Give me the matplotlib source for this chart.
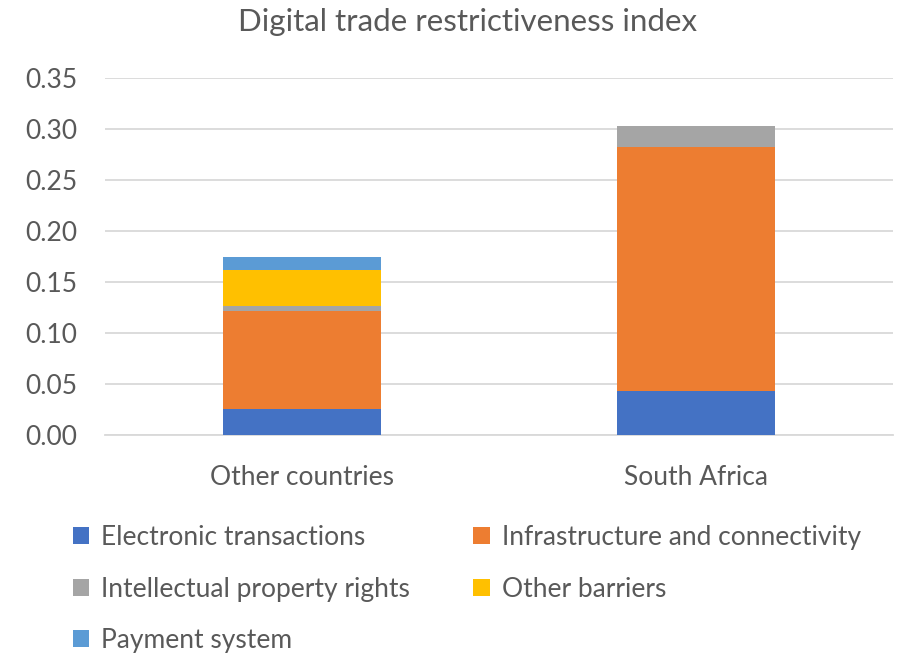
import matplotlib.pyplot as plt
import numpy as np

plt.rcParams['font.family'] = ['Lato', 'DejaVu Sans']

# Index components per group
countries = ['Other countries', 'South Africa']
electronic = [0.025, 0.043]
infrastructure = [0.096, 0.239]
ip_rights = [0.005, 0.021]
other_barriers = [0.036, 0.0]
payment = [0.012, 0.0]

series = [
    ('Electronic transactions', electronic, '#4472C4'),
    ('Infrastructure and connectivity', infrastructure, '#ED7D31'),
    ('Intellectual property rights', ip_rights, '#A5A5A5'),
    ('Other barriers', other_barriers, '#FFC000'),
    ('Payment system', payment, '#5B9BD5'),
]

text_color = '#595959'
grid_color = '#D9D9D9'
fs = 19

fig = plt.figure(figsize=(9.03, 6.53), dpi=100)
ax = fig.add_axes([0.1163, 0.3343, 0.8727, 0.5463])

x = np.arange(len(countries))
bottom = np.zeros(len(countries))
handles = {}
for name, vals, color in series:
    vals = np.array(vals)
    bars = ax.bar(x, vals, width=0.4, bottom=bottom, color=color, label=name, zorder=3)
    handles[name] = bars
    bottom += vals

ax.set_xlim(-0.5, 1.5)
ax.set_ylim(0, 0.35)
ax.set_yticks(np.arange(0, 0.351, 0.05))
ax.set_yticklabels([f'{v:.2f}' for v in np.arange(0, 0.351, 0.05)])
ax.set_xticks(x)
ax.set_xticklabels(countries)
ax.grid(axis='y', color=grid_color, linewidth=1.3, zorder=0)
for side in ['top', 'right', 'left']:
    ax.spines[side].set_visible(False)
ax.spines['bottom'].set_color(grid_color)
ax.spines['bottom'].set_linewidth(1.3)
ax.tick_params(axis='both', length=0, labelsize=fs, colors=text_color)
ax.tick_params(axis='y', pad=20)
ax.tick_params(axis='x', pad=22)

fig.suptitle('Digital trade restrictiveness index', x=0.518, y=0.988,
             va='top', fontsize=22.5, color=text_color)

# legend entries laid out row by row
order = ['Electronic transactions', 'Intellectual property rights', 'Payment system',
         'Infrastructure and connectivity', 'Other barriers']
leg = fig.legend([handles[n] for n in order], order, ncol=2, loc='upper left',
                 bbox_to_anchor=(0.069, 0.212), frameon=False, fontsize=fs,
                 handlelength=0.62, handleheight=0.62, handletextpad=0.45,
                 labelspacing=1.0, columnspacing=2.4, borderaxespad=0)
for t in leg.get_texts():
    t.set_color(text_color)

fig.savefig('out.png', dpi=100)
